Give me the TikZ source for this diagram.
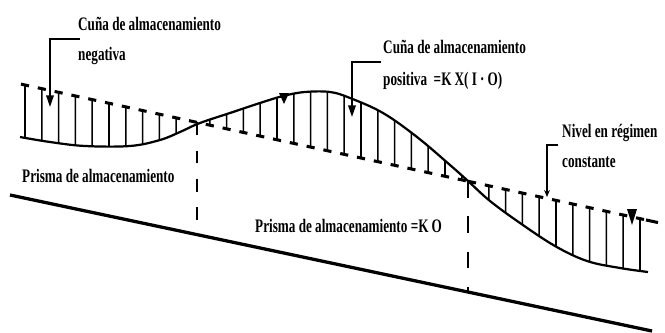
\documentclass[tikz,border=0pt]{standalone}
\usepackage{fontspec}
\setmainfont{Liberation Serif}[FakeStretch=0.69]
\usetikzlibrary{intersections,arrows.meta}
\begin{document}
\begin{tikzpicture}[x=0.03cm,y=-0.03cm,
  lab/.style={font=\fontsize{16.3}{19}\selectfont\bfseries, inner sep=0pt, anchor=base west},
  hatch/.style={line width=1.3pt},
  capm/.style={line width=2.6pt},
  surf/.style={line width=1.9pt, line join=round},
  bedline/.style={line width=2.8pt},
  vdashA/.style={line width=1.9pt, dash pattern=on 11pt off 13pt},
  vdashB/.style={line width=1.9pt, dash pattern=on 14pt off 16pt},
  leader/.style={line width=1.4pt, -{Triangle[width=6.5pt,length=10pt]}},
  leadersmall/.style={line width=1.2pt, -{Stealth[width=5pt,length=6pt]}},
  wlmark/.style={fill=black}
]
\useasboundingbox (0,0) rectangle (665,333);

% water surface during transient
\draw[surf, name path=curve] plot[smooth, tension=0.6] coordinates {
 (20,137) (50,142) (85,146) (130,146) (160,140) (180,132) (200,123)
 (233,112) (260,103) (283,96) (305,92) (330,92) (350,98) (383,113)
 (417,137) (450,165) (468,181) (490,201) (520,223) (555,246)
 (587,261) (620,268) (648,272)};

% hatch lines and caps (left + middle)
\foreach \k in {0,...,26} {
  \pgfmathsetmacro\x{25+16.8*\k}
  \ifnum\k=10\relax\else
    \path[name path=vl] (\x,0) -- (\x,340);
    \path[name intersections={of=curve and vl, by=cp}];
    \draw[hatch] (\x,{85+0.2173*(\x-25)}) -- (cp);
  \fi
  \draw[capm] (\x-4,{85+0.2173*(\x-4-25)}) -- (\x+4,{85+0.2173*(\x+4-25)});
}
% hatch lines and caps (right)
\foreach \k in {0,...,10} {
  \pgfmathsetmacro\x{472+16.8*\k}
  \path[name path=vr] (\x,0) -- (\x,340);
  \path[name intersections={of=curve and vr, by=cq}];
  \draw[hatch] (\x,{85+0.2173*(\x-25)}) -- (cq);
  \draw[capm] (\x-4,{85+0.2173*(\x-4-25)}) -- (\x+4,{85+0.2173*(\x+4-25)});
}
\draw[capm] (646,{85+0.2173*(646-25)}) -- (658,{85+0.2173*(658-25)});

% channel bed
\coordinate (bedL) at (10,195);
\coordinate (bedR) at (652,331);
\draw[bedline] (bedL) -- (bedR);

% dashed verticals
\coordinate (v1t) at (197,122.4);
\coordinate (v1b) at (197,234.6);
\coordinate (v2t) at (468,181.3);
\coordinate (v2b) at (468,292.5);
\draw[vdashA] (v1t) -- (v1b);
\draw[vdashB] (v2t) -- (v2b);

% water level markers
\fill[wlmark] (279,93) -- (289,93) -- (284,104) -- cycle;
\fill[wlmark] (627,209) -- (637,209) -- (632,225) -- cycle;

% labels
\node[lab] (l1) at (78,30) {Cuña de almacenamiento};
\node[lab] (l2) at (78,60) {negativa};
\node[lab] (r1) at (383,53) {Cuña de almacenamiento};
\node[lab] (r2) at (383,85) {positiva\ \ =K\,X(\,I\,·\,O)};
\node[lab] (n1) at (562,137) {Nivel en régimen};
\node[lab] (n2) at (562,167) {constante};
\node[lab] (p1) at (22,182) {Prisma de almacenamiento};
\node[lab] (p2) at (255,232) {Prisma de almacenamiento =K\,O};

% leaders
\coordinate (laS) at (80,39);  \coordinate (laT) at (50,107);
\coordinate (lbS) at (381,62); \coordinate (lbT) at (352,117);
\coordinate (lcS) at (558,145); \coordinate (lcT) at (547,197);
\draw[leader] (laS) -| (laT);
\draw[leader] (lbS) -| (lbT);
\draw[leadersmall] (lcS) -| (lcT);
\end{tikzpicture}
\end{document}
